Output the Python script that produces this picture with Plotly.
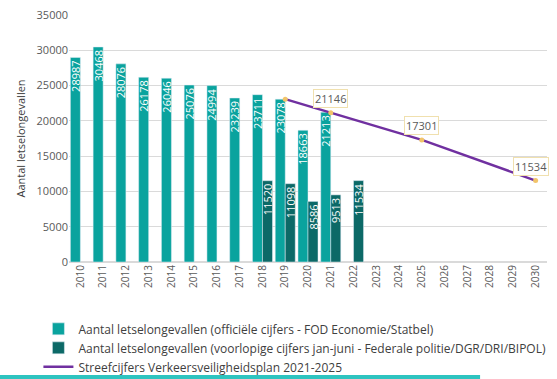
import plotly.graph_objects as go

# Years on the category axis
years = [str(y) for y in range(2010, 2031)]

# Official figures (FOD Economie/Statbel)
official_years = ["2010", "2011", "2012", "2013", "2014", "2015", "2016", "2017",
                  "2018", "2019", "2020", "2021"]
official_values = [28987, 30468, 28076, 26178, 26046, 25076, 24994, 23239,
                   23711, 23078, 18663, 21213]

# Provisional figures Jan-June (Federale politie/DGR/DRI/BIPOL)
prelim_years = ["2018", "2019", "2020", "2021", "2022"]
prelim_values = [11520, 11098, 8586, 9513, 11534]

# Targets of the road safety plan 2021-2025
target_years = ["2019", "2021", "2025", "2030"]
target_values = [23078, 21146, 17301, 11534]
target_labelled = [False, True, True, True]

TEAL = "#0AA39E"
DARK = "#0C6967"
PURPLE = "#7030A0"
GREY = "#595959"
FONT = "Open Sans"

fig = go.Figure()

fig.add_trace(go.Bar(
    x=official_years, y=official_values,
    name="Aantal letselongevallen (officiële cijfers - FOD Economie/Statbel)",
    marker=dict(color=TEAL),
    text=[str(v) for v in official_values],
    textposition="inside", insidetextanchor="end", textangle=-90,
    textfont=dict(color="white", size=11, family=FONT),
    constraintext="none",
))

fig.add_trace(go.Bar(
    x=prelim_years, y=prelim_values,
    name="Aantal letselongevallen (voorlopige cijfers jan-juni - Federale politie/DGR/DRI/BIPOL)",
    marker=dict(color=DARK),
    text=[str(v) for v in prelim_values],
    textposition="inside", insidetextanchor="end", textangle=-90,
    textfont=dict(color="white", size=11, family=FONT),
    constraintext="none",
))

# Target line (legend entry shows the plain line)
fig.add_trace(go.Scatter(
    x=target_years, y=target_values,
    name="Streefcijfers Verkeersveiligheidsplan 2021-2025",
    mode="lines",
    line=dict(color=PURPLE, width=2.5),
))
# Small dots on the target points
fig.add_trace(go.Scatter(
    x=target_years, y=target_values,
    mode="markers", showlegend=False, hoverinfo="skip",
    marker=dict(color="#F2C46A", size=5),
))

# Boxed value labels above the target points
# (numeric-looking category names are addressed by their index on the axis)
for i, (x, v, show) in enumerate(zip(target_years, target_values, target_labelled)):
    if not show:
        continue
    fig.add_annotation(
        x=years.index(x), y=v, xref="x", yref="y", text=str(v),
        showarrow=False, yshift=14,
        xshift=-5 if i == len(target_years) - 1 else 0,
        font=dict(size=11, color=GREY, family=FONT),
        bgcolor="white", bordercolor="#F0E0AE", borderwidth=1, borderpad=1,
    )

# Accent strip along the bottom of the page
fig.add_shape(
    type="rect", xref="paper", yref="paper",
    x0=-0.15, x1=0.86, y0=-0.475, y1=-0.457,
    fillcolor="#2EC4C0", line=dict(width=0), layer="above",
)

fig.update_layout(
    width=557, height=379,
    margin=dict(l=69, r=10, t=15, b=117, autoexpand=False),
    paper_bgcolor="white", plot_bgcolor="white",
    font=dict(family=FONT, color=GREY),
    barmode="group", bargap=0.12, bargroupgap=0,
    uniformtext=dict(minsize=11, mode="show"),
    showlegend=True,
    legend=dict(
        orientation="v", x=-0.064, y=-0.212, xanchor="left", yanchor="top",
        font=dict(size=12, color="#404040", family=FONT),
        itemwidth=30, tracegroupgap=0, traceorder="normal",
        bgcolor="rgba(0,0,0,0)",
    ),
)

fig.update_xaxes(
    type="category", categoryorder="array", categoryarray=years,
    range=[-0.5, len(years) - 0.5],
    tickangle=-90, tickfont=dict(size=10, color=GREY, family=FONT),
    showgrid=False, showline=False, ticks="",
)
fig.update_yaxes(
    range=[0, 35000], dtick=5000, tickformat="d",
    tickfont=dict(size=11, color=GREY, family=FONT),
    gridcolor="#DADADA", gridwidth=1, zeroline=True, zerolinecolor="#DADADA",
    showline=False, ticks="",
    title=dict(text="Aantal letselongevallen", font=dict(size=11, color="#404040", family=FONT), standoff=8),
)

fig.write_html("out.html")
